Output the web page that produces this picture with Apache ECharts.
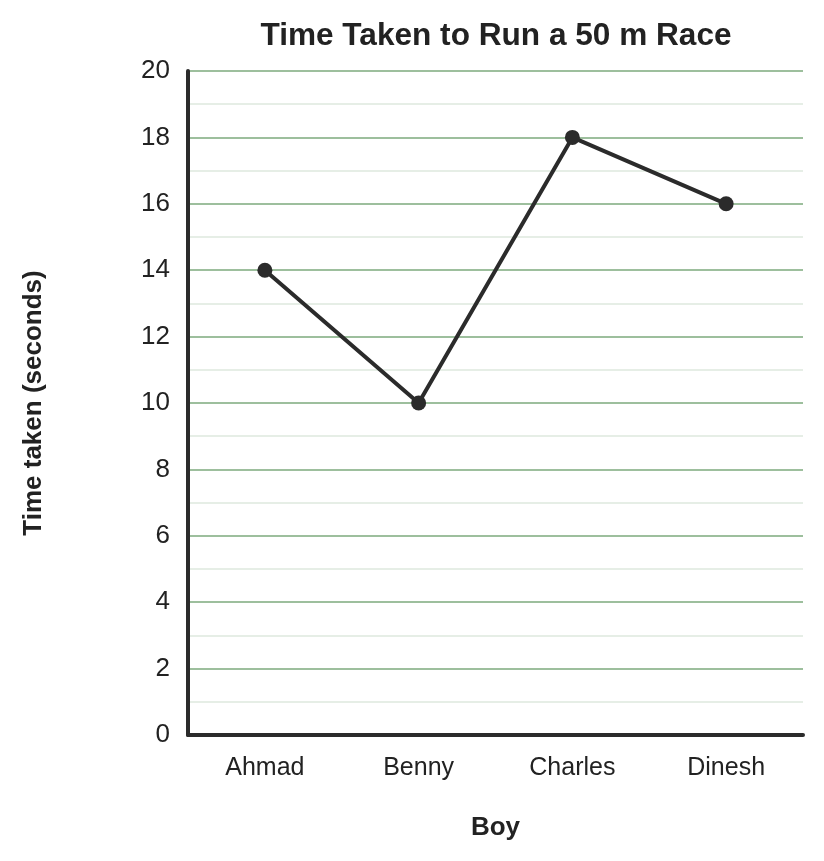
<!DOCTYPE html>
<html>
<head>
<meta charset="utf-8">
<script src="https://cdn.jsdelivr.net/npm/echarts@6/dist/echarts.min.js"></script>
<style>
  html, body { margin: 0; padding: 0; background: #fff; }
  #chart { width: 824px; height: 861px; }
</style>
</head>
<body>
<div id="chart"></div>
<script>
// data
var boys = ["Ahmad", "Benny", "Charles", "Dinesh"];
var timeTaken = [14, 10, 18, 16];

var chart = echarts.init(document.getElementById("chart"));
var font = "Liberation Sans, Arial, sans-serif";

var option = {
  backgroundColor: "#ffffff",
  animation: false,
  title: {
    text: "Time Taken to Run a 50 m Race",
    left: 491,
    textAlign: "center",
    top: 15,
    textStyle: { fontFamily: font, fontSize: 31.6, fontWeight: "bold", color: "#222" }
  },
  grid: { left: 188, right: 21, top: 71, bottom: 126 },
  xAxis: {
    type: "category",
    data: boys,
    boundaryGap: true,
    name: "Boy",
    nameLocation: "middle",
    nameGap: 80,
    nameTextStyle: { fontFamily: font, fontSize: 26, fontWeight: "bold", color: "#222" },
    axisLine: { lineStyle: { color: "#2b2b2b", width: 4 } },
    axisTick: { show: false },
    axisLabel: { fontFamily: font, fontSize: 25, color: "#222", margin: 21 }
  },
  yAxis: {
    type: "value",
    min: 0,
    max: 20,
    interval: 2,
    name: "Time taken (seconds)",
    nameLocation: "middle",
    nameGap: 141,
    nameRotate: 90,
    nameTextStyle: { fontFamily: font, fontSize: 26, fontWeight: "bold", color: "#222" },
    axisLine: { show: true, lineStyle: { color: "#2b2b2b", width: 4 } },
    axisTick: { show: false },
    axisLabel: { fontFamily: font, fontSize: 26, color: "#222", margin: 18 },
    splitLine: { lineStyle: { color: "#9dbf9d", width: 2 } },
    minorTick: { show: false, splitNumber: 2 },
    minorSplitLine: { show: true, lineStyle: { color: "#e6eee6", width: 2 } }
  },
  series: [
    {
      type: "line",
      data: timeTaken,
      symbol: "circle",
      symbolSize: 15,
      lineStyle: { color: "#2b2b2b", width: 4 },
      itemStyle: { color: "#2b2b2b" }
    }
  ]
};
chart.setOption(option);
</script>
</body>
</html>
